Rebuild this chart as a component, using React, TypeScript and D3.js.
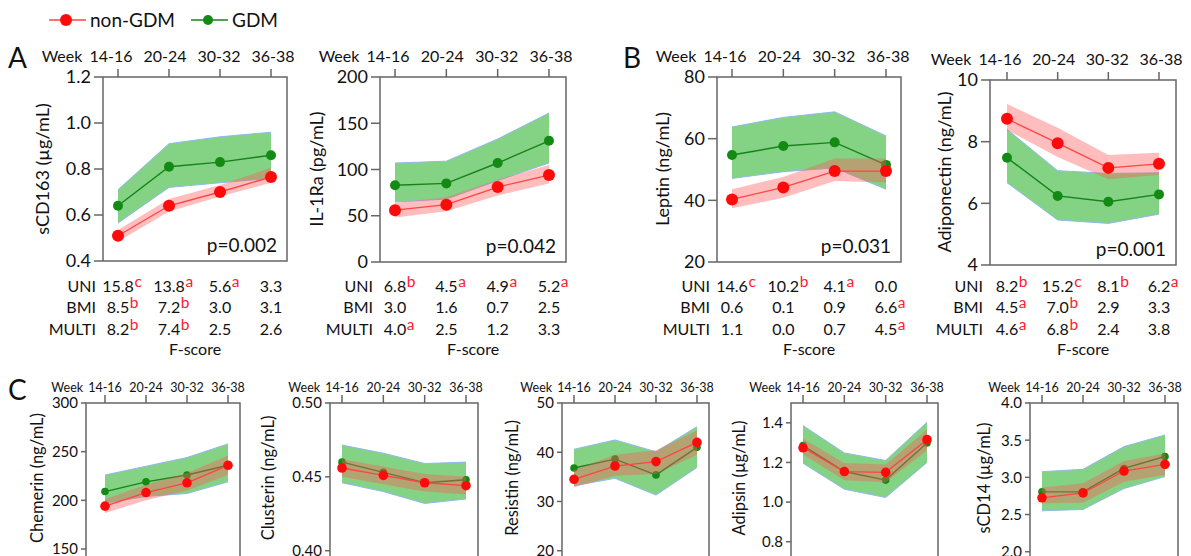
import React from "react";
import * as d3 from "d3";

const FONT = "Lato, 'Liberation Sans', sans-serif";
const GREEN_FILL = "#84d384";
const GREEN_EDGE = "#8fb9ec";
const GREEN_LINE = "#17821a";
const GREEN_DOT = "#128a14";
const RED_FILL = "#ff5a5a";
const RED_LINE = "#ff4444";
const RED_DOT = "#ff0a0a";
const AXIS = "#666";
const SUP = "#ff1a2e";
const INK = "#111";

const weeks = ["14-16", "20-24", "30-32", "36-38"];
const groups = ["non-GDM", "GDM"];

// sCD163 (µg/mL)
const sCD163_gdm = [0.64, 0.81, 0.83, 0.86];
const sCD163_gdmLo = [0.565, 0.72, 0.74, 0.76];
const sCD163_gdmHi = [0.71, 0.91, 0.94, 0.96];
const sCD163_non = [0.51, 0.64, 0.7, 0.765];
const sCD163_nonLo = [0.485, 0.615, 0.68, 0.74];
const sCD163_nonHi = [0.535, 0.67, 0.73, 0.805];

// IL-1Ra (pg/mL)
const il1ra_gdm = [83, 85, 107, 131];
const il1ra_gdmLo = [65, 68, 88, 107];
const il1ra_gdmHi = [107, 109, 133, 161];
const il1ra_non = [56, 62, 81, 94];
const il1ra_nonLo = [48, 55, 72, 85];
const il1ra_nonHi = [64, 70, 89, 105];

// Leptin (ng/mL)
const leptin_gdm = [54.7, 57.6, 58.8, 51.5];
const leptin_gdmLo = [47.1, 49.3, 50.5, 43.6];
const leptin_gdmHi = [63.8, 66.9, 68.7, 60.9];
const leptin_non = [40.3, 44.2, 49.5, 49.5];
const leptin_nonLo = [37.4, 40.8, 46.3, 45.8];
const leptin_nonHi = [43.6, 47.6, 53.6, 53.6];

// Adiponectin (ng/mL)
const adipo_gdm = [7.48, 6.24, 6.05, 6.29];
const adipo_gdmLo = [6.67, 5.46, 5.35, 5.65];
const adipo_gdmHi = [8.4, 7.06, 6.97, 6.99];
const adipo_non = [8.74, 7.95, 7.15, 7.28];
const adipo_nonLo = [8.38, 7.5, 6.78, 6.92];
const adipo_nonHi = [9.22, 8.45, 7.57, 7.64];

// Chemerin (ng/mL)
const chem_gdm = [209, 219, 226, 236];
const chem_gdmLo = [197, 204, 207, 219];
const chem_gdmHi = [226, 235, 244, 258];
const chem_non = [194, 208, 218, 236];
const chem_nonLo = [187, 200, 210, 226];
const chem_nonHi = [201, 216, 228, 246];

// Clusterin (ng/mL)
const clus_gdm = [0.46, 0.453, 0.446, 0.448];
const clus_gdmLo = [0.446, 0.44, 0.432, 0.435];
const clus_gdmHi = [0.4715, 0.466, 0.459, 0.46];
const clus_non = [0.456, 0.451, 0.446, 0.444];
const clus_nonLo = [0.45, 0.445, 0.44, 0.438];
const clus_nonHi = [0.462, 0.457, 0.452, 0.45];

// Resistin (ng/mL)
const resi_gdm = [36.8, 38.6, 35.4, 41.0];
const resi_gdmLo = [33.2, 34.7, 31.3, 36.9];
const resi_gdmHi = [40.6, 42.5, 40.1, 45.2];
const resi_non = [34.5, 37.2, 38.1, 42.0];
const resi_nonLo = [32.9, 35.2, 35.6, 39.5];
const resi_nonHi = [36.4, 39.5, 40.4, 44.4];

// Adipsin (µg/mL)
const adip_gdm = [1.285, 1.154, 1.111, 1.298];
const adip_gdmLo = [1.196, 1.065, 1.023, 1.2];
const adip_gdmHi = [1.386, 1.248, 1.21, 1.403];
const adip_non = [1.274, 1.154, 1.15, 1.315];
const adip_nonLo = [1.24, 1.11, 1.1, 1.26];
const adip_nonHi = [1.32, 1.197, 1.19, 1.366];

// sCD14 (µg/mL)
const cd14_gdm = [2.805, 2.805, 3.12, 3.28];
const cd14_gdmLo = [2.55, 2.568, 2.85, 3.01];
const cd14_gdmHi = [3.076, 3.108, 3.414, 3.57];
const cd14_non = [2.725, 2.79, 3.085, 3.175];
const cd14_nonLo = [2.65, 2.66, 2.94, 3.03];
const cd14_nonHi = [2.865, 2.92, 3.22, 3.32];

// F-score tables: [value, superscript]
const tableRows = ["UNI", "BMI", "MULTI"];
const sCD163_F = [
  [["15.8", "c"], ["13.8", "a"], ["5.6", "a"], ["3.3", ""]],
  [["8.5", "b"], ["7.2", "b"], ["3.0", ""], ["3.1", ""]],
  [["8.2", "b"], ["7.4", "b"], ["2.5", ""], ["2.6", ""]],
];
const il1ra_F = [
  [["6.8", "b"], ["4.5", "a"], ["4.9", "a"], ["5.2", "a"]],
  [["3.0", ""], ["1.6", ""], ["0.7", ""], ["2.5", ""]],
  [["4.0", "a"], ["2.5", ""], ["1.2", ""], ["3.3", ""]],
];
const leptin_F = [
  [["14.6", "c"], ["10.2", "b"], ["4.1", "a"], ["0.0", ""]],
  [["0.6", ""], ["0.1", ""], ["0.9", ""], ["6.6", "a"]],
  [["1.1", ""], ["0.0", ""], ["0.7", ""], ["4.5", "a"]],
];
const adipo_F = [
  [["8.2", "b"], ["15.2", "c"], ["8.1", "b"], ["6.2", "a"]],
  [["4.5", "a"], ["7.0", "b"], ["2.9", ""], ["3.3", ""]],
  [["4.6", "a"], ["6.8", "b"], ["2.4", ""], ["3.8", ""]],
];

const pValues = ["p=0.002", "p=0.042", "p=0.031", "p=0.001"];

type Cfg = {
  fx0: number; fx1: number; px0: number; px1: number;
  top: number; bottom: number; frameBottom: number;
  domain: [number, number]; ticks: number[]; fmt: (v: number) => string;
  label: string; labelOff: number; labelY: number; small: boolean;
  gdm: number[]; gdmLo: number[]; gdmHi: number[];
  non: number[]; nonLo: number[]; nonHi: number[];
  p?: string; table?: string[][][];
};

const f1 = d3.format(".1f");
const f2 = d3.format(".2f");
const f0 = d3.format("d");

const panels: Cfg[] = [
  { fx0: 103, fx1: 287, px0: 118, px1: 271, top: 77, bottom: 261, frameBottom: 261,
    domain: [0.4, 1.2], ticks: [0.4, 0.6, 0.8, 1.0, 1.2], fmt: f1,
    label: "sCD163 (µg/mL)", labelOff: 60, labelY: 169, small: false,
    gdm: sCD163_gdm, gdmLo: sCD163_gdmLo, gdmHi: sCD163_gdmHi,
    non: sCD163_non, nonLo: sCD163_nonLo, nonHi: sCD163_nonHi, p: pValues[0], table: sCD163_F },
  { fx0: 380, fx1: 566, px0: 395, px1: 549, top: 77, bottom: 262, frameBottom: 262,
    domain: [0, 200], ticks: [0, 50, 100, 150, 200], fmt: f0,
    label: "IL-1Ra (pg/mL)", labelOff: 63, labelY: 169, small: false,
    gdm: il1ra_gdm, gdmLo: il1ra_gdmLo, gdmHi: il1ra_gdmHi,
    non: il1ra_non, nonLo: il1ra_nonLo, nonHi: il1ra_nonHi, p: pValues[1], table: il1ra_F },
  { fx0: 717, fx1: 901, px0: 732, px1: 886, top: 77, bottom: 262, frameBottom: 262,
    domain: [20, 80], ticks: [20, 40, 60, 80], fmt: f0,
    label: "Leptin (ng/mL)", labelOff: 54, labelY: 169, small: false,
    gdm: leptin_gdm, gdmLo: leptin_gdmLo, gdmHi: leptin_gdmHi,
    non: leptin_non, nonLo: leptin_nonLo, nonHi: leptin_nonHi, p: pValues[2], table: leptin_F },
  { fx0: 990, fx1: 1176, px0: 1007, px1: 1159, top: 80, bottom: 265, frameBottom: 265,
    domain: [4, 10], ticks: [4, 6, 8, 10], fmt: f0,
    label: "Adiponectin (ng/mL)", labelOff: 45, labelY: 172, small: false,
    gdm: adipo_gdm, gdmLo: adipo_gdmLo, gdmHi: adipo_gdmHi,
    non: adipo_non, nonLo: adipo_nonLo, nonHi: adipo_nonHi, p: pValues[3], table: adipo_F },
  { fx0: 86, fx1: 240, px0: 105, px1: 228, top: 403, bottom: 549, frameBottom: 580,
    domain: [150, 300], ticks: [150, 200, 250, 300], fmt: f0,
    label: "Chemerin (ng/mL)", labelOff: 49, labelY: 478, small: true,
    gdm: chem_gdm, gdmLo: chem_gdmLo, gdmHi: chem_gdmHi,
    non: chem_non, nonLo: chem_nonLo, nonHi: chem_nonHi },
  { fx0: 330, fx1: 478, px0: 342, px1: 466, top: 403, bottom: 550.7, frameBottom: 580,
    domain: [0.4, 0.5], ticks: [0.4, 0.45, 0.5], fmt: f2,
    label: "Clusterin (ng/mL)", labelOff: 62, labelY: 478, small: true,
    gdm: clus_gdm, gdmLo: clus_gdmLo, gdmHi: clus_gdmHi,
    non: clus_non, nonLo: clus_nonLo, nonHi: clus_nonHi },
  { fx0: 562, fx1: 709, px0: 574, px1: 697, top: 403, bottom: 550.7, frameBottom: 580,
    domain: [20, 50], ticks: [20, 30, 40, 50], fmt: f0,
    label: "Resistin (ng/mL)", labelOff: 50, labelY: 478, small: true,
    gdm: resi_gdm, gdmLo: resi_gdmLo, gdmHi: resi_gdmHi,
    non: resi_non, nonLo: resi_nonLo, nonHi: resi_nonHi },
  { fx0: 791, fx1: 938, px0: 803, px1: 927, top: 403, bottom: 541.7, frameBottom: 580,
    domain: [0.8, 1.5], ticks: [0.8, 1.0, 1.2, 1.4], fmt: f1,
    label: "Adipsin (µg/mL)", labelOff: 52, labelY: 478, small: true,
    gdm: adip_gdm, gdmLo: adip_gdmLo, gdmHi: adip_gdmHi,
    non: adip_non, nonLo: adip_nonLo, nonHi: adip_nonHi },
  { fx0: 1030, fx1: 1178, px0: 1042, px1: 1165, top: 403, bottom: 551.7, frameBottom: 580,
    domain: [2, 4], ticks: [2, 2.5, 3, 3.5, 4], fmt: f1,
    label: "sCD14 (µg/mL)", labelOff: 46, labelY: 478, small: true,
    gdm: cd14_gdm, gdmLo: cd14_gdmLo, gdmHi: cd14_gdmHi,
    non: cd14_non, nonLo: cd14_nonLo, nonHi: cd14_nonHi },
];

function numWidth(s: string, fs: number) {
  let w = 0;
  for (const ch of s) w += ch === "." ? 0.26 * fs : 0.58 * fs;
  return w;
}

function Panel({ c }: { c: Cfg }) {
  const x = d3.scalePoint<string>().domain(weeks).range([c.px0, c.px1]);
  // top-row week labels sit a bit wider than the ticks
  const xl = d3.scalePoint<string>().domain(weeks)
    .range(c.small ? [c.px0, c.px1] : [c.px0 - 7, c.px1 + 2]);
  const y = d3.scaleLinear().domain(c.domain).range([c.bottom, c.top]);
  const xi = (i: number) => x(weeks[i]) as number;

  const area = (lo: number[], hi: number[]) =>
    d3.area<number>().x((_, i) => xi(i)).y0((d) => y(d)).y1((_, i) => y(hi[i]))(lo) || "";
  const line = (arr: number[]) =>
    d3.line<number>().x((_, i) => xi(i)).y((d) => y(d))(arr) || "";

  const wfs = c.small ? 12.5 : 16;
  const tfs = c.small ? 15 : 18;
  const lfs = c.small ? 16.5 : 18;
  const tickLen = c.small ? 5 : 9;
  const rG = c.small ? 3.8 : 5;
  const rR = c.small ? 4.8 : 6;
  const weekY = c.small ? c.top - 11 : c.top - 15;
  const firstW = wfs * 2.7;

  return (
    <g fontFamily={FONT}>
      {/* bands and series: GDM under, non-GDM over */}
      <path d={area(c.gdmLo, c.gdmHi)} fill={GREEN_FILL} />
      <path d={line(c.gdmHi)} fill="none" stroke={GREEN_EDGE} strokeWidth={1} />
      <path d={line(c.gdmLo)} fill="none" stroke={GREEN_EDGE} strokeWidth={1} />
      <path d={line(c.gdm)} fill="none" stroke={GREEN_LINE} strokeWidth={1.4} />
      {c.gdm.map((v, i) => (
        <circle key={"g" + i} cx={xi(i)} cy={y(v)} r={rG} fill={GREEN_DOT} />
      ))}
      <path d={area(c.nonLo, c.nonHi)} fill={RED_FILL} fillOpacity={0.4} />
      <path d={line(c.non)} fill="none" stroke={RED_LINE} strokeWidth={1.3} />
      {c.non.map((v, i) => (
        <circle key={"r" + i} cx={xi(i)} cy={y(v)} r={rR} fill={RED_DOT} />
      ))}

      {/* frame */}
      <path
        d={`M${c.fx0},${c.frameBottom}V${c.top}H${c.fx1}V${c.frameBottom}` +
          (c.small ? "" : `H${c.fx0}`)}
        fill="none" stroke={AXIS} strokeWidth={1.5} />
      {c.ticks.map((t) => (
        <g key={t}>
          <line x1={c.fx0 - tickLen} x2={c.fx0} y1={y(t)} y2={y(t)} stroke={AXIS} strokeWidth={1.5} />
          <text x={c.fx0 - tickLen - 3} y={y(t)} dy="0.36em" textAnchor="end"
            fontSize={tfs} fill={INK}>{c.fmt(t)}</text>
        </g>
      ))}
      {weeks.map((w) => (
        <g key={w}>
          <line x1={x(w)} x2={x(w)} y1={c.top - 8} y2={c.top} stroke={AXIS} strokeWidth={1.5} />
          <text x={xl(w)} y={weekY} textAnchor="middle" fontSize={wfs} fill={INK}>{w}</text>
        </g>
      ))}
      <text x={(xl(weeks[0]) as number) - firstW / 2 - (c.small ? 5 : 7)} y={weekY}
        textAnchor="end" fontSize={wfs} fill={INK}>Week</text>

      <text transform={`translate(${c.fx0 - c.labelOff},${c.labelY}) rotate(-90)`}
        textAnchor="middle" dy="0.35em" fontSize={lfs} fill={INK}>{c.label}</text>

      {c.p && (
        <text x={c.fx1 - 10} y={c.bottom - 9} textAnchor="end" fontSize={19} fill={INK}>{c.p}</text>
      )}

      {c.table && (
        <g fontSize={16} fill={INK}>
          {tableRows.map((r, ri) => {
            const ty = 292 + [0, 21, 43][ri];
            return (
              <g key={r}>
                <text x={c.fx0 - 7} y={ty} textAnchor="end">{r}</text>
                {c.table![ri].map(([v, s], ci) => {
                  const cx = xi(ci);
                  return (
                    <g key={ci}>
                      <text x={cx} y={ty} textAnchor="middle">{v}</text>
                      {s && (
                        <text x={cx + numWidth(v, 16) / 2 + 0.5} y={ty - 5} fontSize={15.5} fill={SUP}>{s}</text>
                      )}
                    </g>
                  );
                })}
              </g>
            );
          })}
          <text x={(c.fx0 + c.fx1) / 2} y={355} textAnchor="middle">F-score</text>
        </g>
      )}
    </g>
  );
}

export default function App() {
  const legendColors = [RED_DOT, GREEN_DOT];
  const legendLines = [RED_LINE, GREEN_LINE];
  const legendX = [49, 191];
  return (
    <svg width={1191} height={556} style={{ position: "absolute", left: 0, top: 0, background: "#fff" }}>
      <rect width={1191} height={556} fill="#fff" />
      {groups.map((g, i) => (
        <g key={g} fontFamily={FONT}>
          <line x1={legendX[i]} x2={legendX[i] + 37} y1={20} y2={20} stroke={legendLines[i]} strokeWidth={1.4} />
          <circle cx={legendX[i] + 17} cy={20} r={i === 0 ? 6 : 5} fill={legendColors[i]} />
          <text x={legendX[i] + 41} y={27} fontSize={19} fill={INK}>{g}</text>
        </g>
      ))}
      <g fontFamily={FONT} fontSize={28} fill={INK}>
        <text x={8} y={68}>A</text>
        <text x={623} y={68}>B</text>
        <text x={8} y={400}>C</text>
      </g>
      {panels.map((c, i) => (
        <Panel key={i} c={c} />
      ))}
    </svg>
  );
}
